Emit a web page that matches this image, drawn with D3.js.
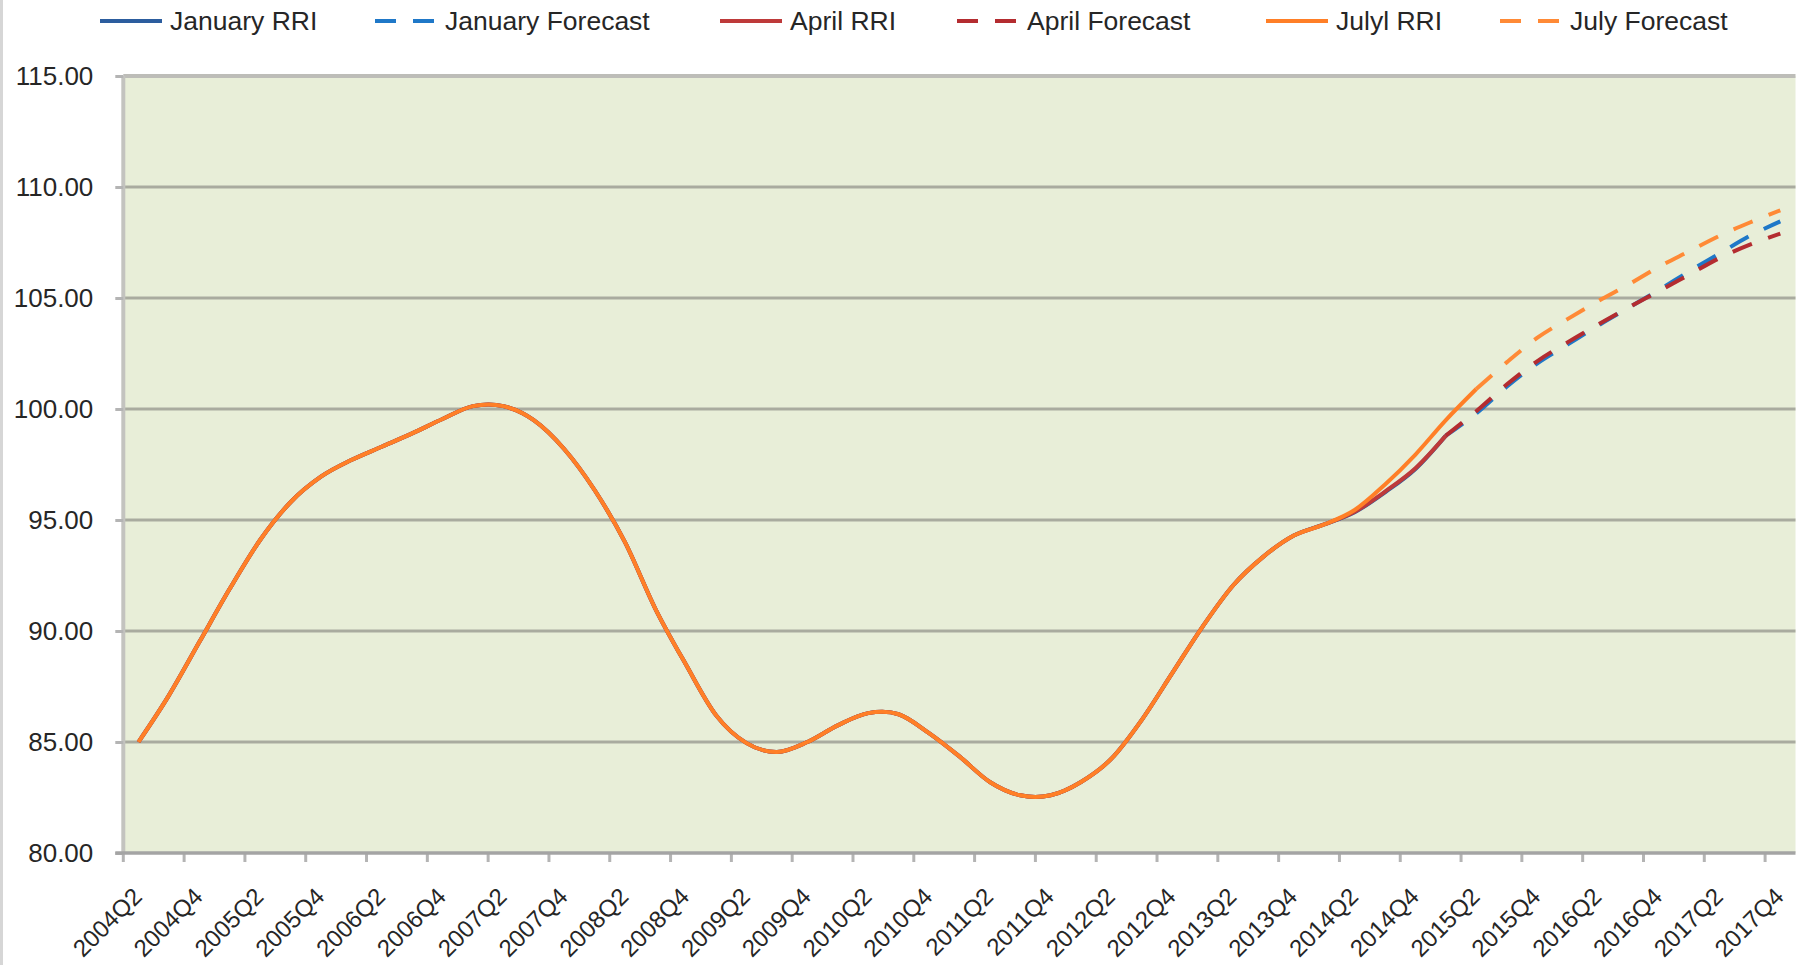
<!DOCTYPE html>
<html>
<head>
<meta charset="utf-8">
<script src="https://cdn.jsdelivr.net/npm/d3@7"></script>
<style>
    body { margin: 0; background: #fff; }
    svg text { font-family: "Liberation Sans", Arial, sans-serif; fill: #262626; }
</style>
</head>
<body>
<svg id="chart" width="1800" height="965"></svg>
<script>
// categories
const quarters = [
    "2004Q2", "2004Q3", "2004Q4", "2005Q1", "2005Q2", "2005Q3", "2005Q4", "2006Q1", "2006Q2", "2006Q3",
    "2006Q4", "2007Q1", "2007Q2", "2007Q3", "2007Q4", "2008Q1", "2008Q2", "2008Q3", "2008Q4", "2009Q1",
    "2009Q2", "2009Q3", "2009Q4", "2010Q1", "2010Q2", "2010Q3", "2010Q4", "2011Q1", "2011Q2", "2011Q3",
    "2011Q4", "2012Q1", "2012Q2", "2012Q3", "2012Q4", "2013Q1", "2013Q2", "2013Q3", "2013Q4", "2014Q1",
    "2014Q2", "2014Q3", "2014Q4", "2015Q1", "2015Q2", "2015Q3", "2015Q4", "2016Q1", "2016Q2", "2016Q3",
    "2016Q4", "2017Q1", "2017Q2", "2017Q3", "2017Q4"
]
const xTickLabels = quarters.filter((q, i) => i % 2 == 0)
const yTicks = [80, 85, 90, 95, 100, 105, 110, 115]

// shared history, 2004Q2 - 2014Q1 (all three vintages lie on top of each other)
const rriShared = [
    85.0, 87.1, 89.5, 91.9, 94.1, 95.8, 96.95, 97.7, 98.3, 98.9,
    99.55, 100.13, 100.13, 99.5, 98.2, 96.35, 94.0, 91.0, 88.5, 86.2,
    84.95, 84.55, 85.0, 85.75, 86.3, 86.25, 85.4, 84.35, 83.2, 82.6,
    82.6, 83.2, 84.25, 86.0, 88.1, 90.2, 92.05, 93.35, 94.3, 94.8
]
const janRRI = rriShared.concat([95.35, 96.25, 97.3, 98.8])
const aprRRI = rriShared.concat([95.37, 96.28, 97.33, 98.8])
const julRRI = rriShared.concat([95.45, 96.6, 97.95, 99.5, 100.9])

// forecasts, starting at the last actual quarter
const janForecastStart = "2015Q1"
const janForecast = [98.8, 99.8, 101.0, 102.05, 102.9, 103.75, 104.55, 105.35, 106.2, 107.0, 107.8, 108.45]
const aprForecastStart = "2015Q1"
const aprForecast = [98.8, 99.9, 101.1, 102.15, 103.0, 103.8, 104.57, 105.3, 106.05, 106.8, 107.4, 107.9]
const julForecastStart = "2015Q2"
const julForecast = [100.9, 102.1, 103.2, 104.05, 104.85, 105.6, 106.4, 107.1, 107.8, 108.4, 108.95]

const seriesNames = ["January RRI", "January Forecast", "April RRI", "April Forecast", "Julyl RRI", "July Forecast"]

function toPoints(values, start) {
    let offset = quarters.indexOf(start)
    return values.map((v, i) => ({ q: quarters[offset + i], value: v }))
}

const series = [
    { name: seriesNames[0], data: toPoints(janRRI, quarters[0]), color: "#2C5D9E", dash: null },
    { name: seriesNames[1], data: toPoints(janForecast, janForecastStart), color: "#1F78C8", dash: "21,17" },
    { name: seriesNames[2], data: toPoints(aprRRI, quarters[0]), color: "#BE3A3A", dash: null },
    { name: seriesNames[3], data: toPoints(aprForecast, aprForecastStart), color: "#B42C30", dash: "21,17" },
    { name: seriesNames[4], data: toPoints(julRRI, quarters[0]), color: "#FF7F27", dash: null },
    { name: seriesNames[5], data: toPoints(julForecast, julForecastStart), color: "#FF8A36", dash: "21,17" }
]

const svg = d3.select("#chart")
const plot = { left: 123.3, right: 1795.5, top: 76, bottom: 853 }

const scX = d3.scaleBand().domain(quarters).range([plot.left, plot.right]).padding(0)
const scY = d3.scaleLinear().domain([80, 115]).range([plot.bottom, plot.top])
const bw = scX.bandwidth()

// faint frame line on the far left of the picture
svg.append("line").attr("x1", 1.5).attr("x2", 1.5).attr("y1", 0).attr("y2", 965)
    .attr("stroke", "#D6D6D6").attr("stroke-width", 3)

// plot area
svg.append("rect")
    .attr("x", plot.left).attr("y", plot.top)
    .attr("width", plot.right - plot.left).attr("height", plot.bottom - plot.top)
    .attr("fill", "#E8EED8")

// gridlines
svg.append("g").attr("class", "grid")
    .selectAll("line").data(yTicks.filter(d => d > 80 && d < 115))
    .enter().append("line")
    .attr("x1", plot.left).attr("x2", plot.right)
    .attr("y1", d => scY(d)).attr("y2", d => scY(d))
    .attr("stroke", "#A9AB9F").attr("stroke-width", 3)

// top and left border
svg.append("line").attr("x1", plot.left).attr("x2", plot.right)
    .attr("y1", scY(115)).attr("y2", scY(115))
    .attr("stroke", "#BDBDB8").attr("stroke-width", 4)
svg.append("line").attr("x1", plot.left).attr("x2", plot.left)
    .attr("y1", plot.top).attr("y2", plot.bottom)
    .attr("stroke", "#C3C3BF").attr("stroke-width", 4)

// y axis
let yAxis = svg.append("g")
    .attr("transform", "translate(" + plot.left + ",0)")
    .call(d3.axisLeft(scY).tickValues(yTicks).tickFormat(d3.format(".2f")).tickSize(8).tickPadding(22))
yAxis.select(".domain").remove()
yAxis.selectAll("line").attr("stroke", "#B4B4B4").attr("stroke-width", 3)
yAxis.selectAll("text").attr("font-size", 26).attr("font-family", null)

// x axis
let xAxis = svg.append("g")
    .attr("transform", "translate(0," + plot.bottom + ")")
    .call(d3.axisBottom(scX).tickValues(xTickLabels).tickSize(9).tickPadding(0))
xAxis.select(".domain").remove()
xAxis.selectAll(".tick line")
    .attr("transform", `translate(${-bw / 2},0)`)
    .attr("stroke", "#B4B4B4").attr("stroke-width", 3)
xAxis.selectAll("text")
    .attr("font-size", 24).attr("font-family", null)
    .attr("text-anchor", "end")
    .attr("y", 0).attr("dy", "0.35em")
    .attr("transform", "translate(-1,39),rotate(-45)")

// bottom axis line
svg.append("line").attr("x1", plot.left - 8).attr("x2", plot.right)
    .attr("y1", plot.bottom).attr("y2", plot.bottom)
    .attr("stroke", "#A4A4A4").attr("stroke-width", 3.5)

// lines
let lnMkr = d3.line().curve(d3.curveCardinal.tension(0))
    .x(d => scX(d.q) + bw / 2).y(d => scY(d.value))

svg.append("g").attr("class", "series")
    .selectAll("path").data(series)
    .enter().append("path")
    .attr("fill", "none")
    .attr("stroke", d => d.color)
    .attr("stroke-width", 4)
    .attr("stroke-dasharray", d => d.dash)
    .attr("stroke-linejoin", "round")
    .attr("d", d => lnMkr(d.data))

// legend
const legendX = [100, 375, 720, 957, 1266, 1500]
let legend = svg.append("g").attr("class", "legend")
    .selectAll("g").data(series)
    .enter().append("g")
    .attr("transform", (d, i) => `translate(${legendX[i]},21)`)
legend.append("line")
    .attr("x1", 0).attr("x2", 62).attr("y1", 0).attr("y2", 0)
    .attr("stroke", d => d.color).attr("stroke-width", 4)
    .attr("stroke-dasharray", d => d.dash)
legend.append("text")
    .attr("x", 70).attr("y", 0).attr("dy", "0.35em")
    .attr("font-size", 26.5)
    .text(d => d.name)
</script>
</body>
</html>
